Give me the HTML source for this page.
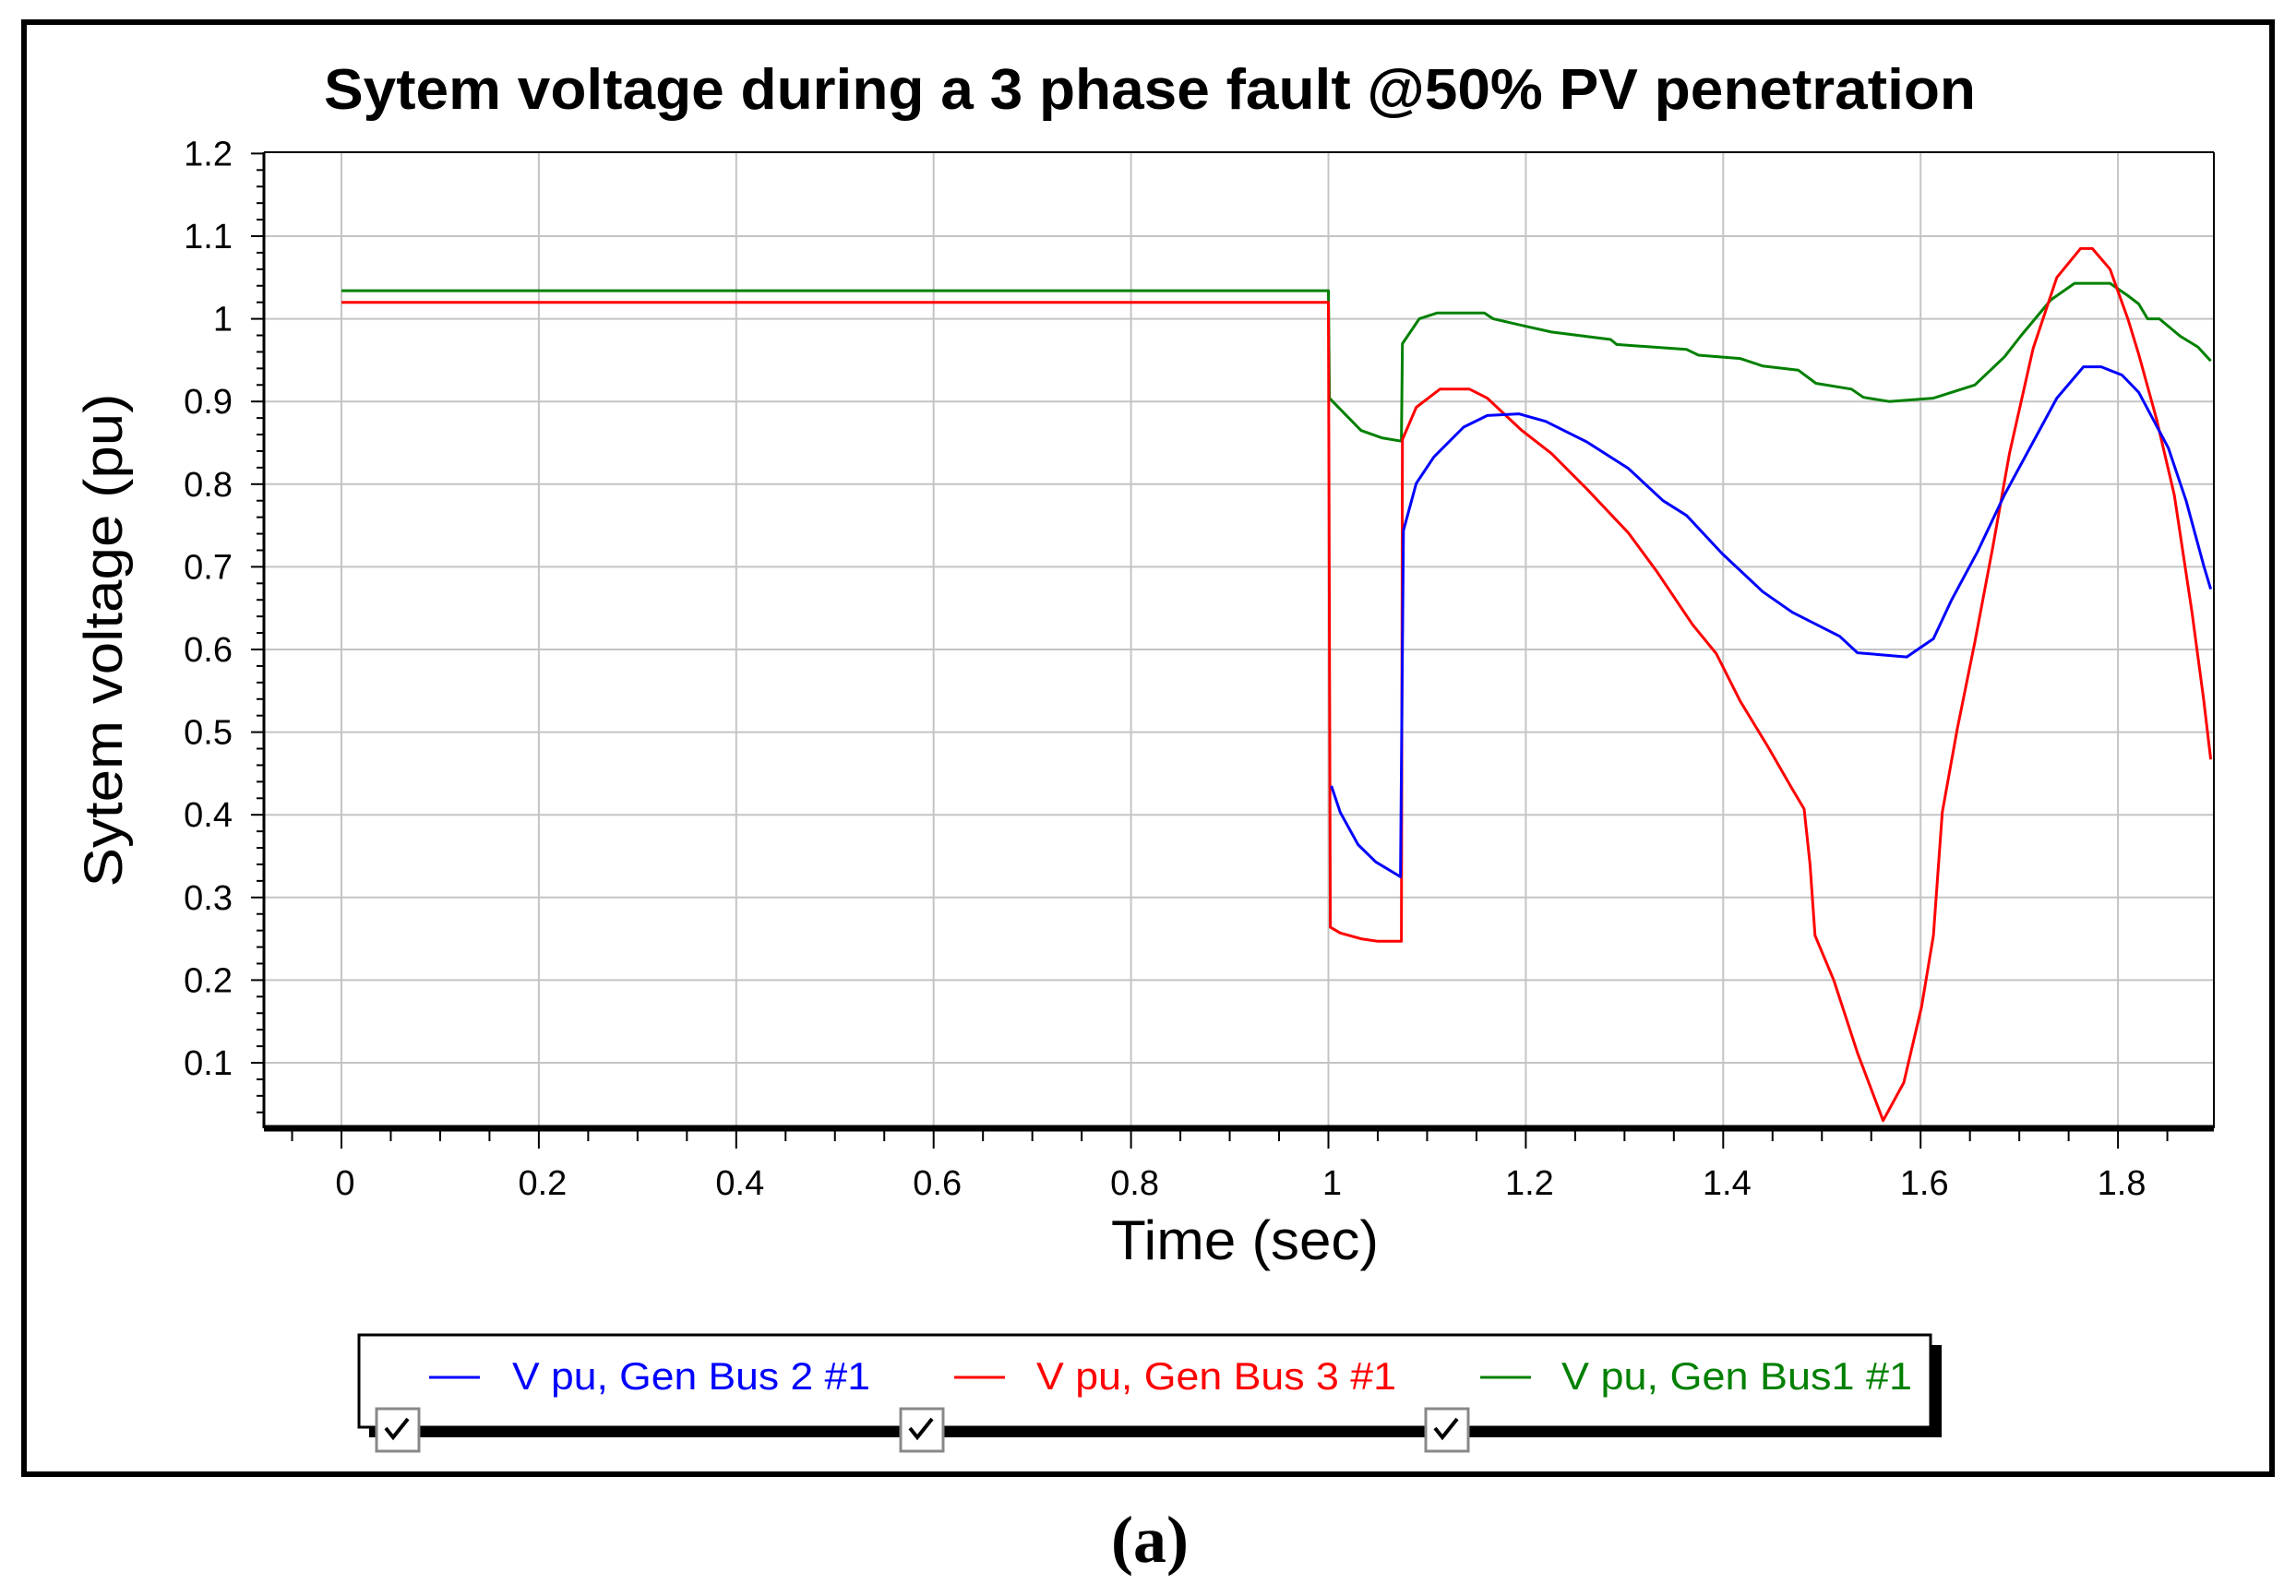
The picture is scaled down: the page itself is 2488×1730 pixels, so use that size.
<!DOCTYPE html>
<html><head><meta charset="utf-8">
<style>
html,body{margin:0;padding:0;background:#fff;}
svg{display:block;font-family:"Liberation Sans",sans-serif;}
</style></head>
<body>
<svg id="chart" width="2488" height="1730" viewBox="0 0 2488 1730" xmlns="http://www.w3.org/2000/svg">
  <rect x="0" y="0" width="2488" height="1730" fill="#fff"/>
  <rect x="26" y="24" width="2436" height="1574" fill="#fff" stroke="#000" stroke-width="6"/>
  <text x="1246" y="118" text-anchor="middle" font-size="62" font-weight="bold" textLength="1790" lengthAdjust="spacingAndGlyphs">Sytem voltage during a 3 phase fault @50% PV penetration</text>
  <g id="grid"></g>
  <g id="axes"></g>
  <g id="series"></g>
  <text transform="translate(132,694) rotate(-90)" text-anchor="middle" font-size="58" textLength="535" lengthAdjust="spacingAndGlyphs">Sytem voltage (pu)</text>
  <text x="1349" y="1365" text-anchor="middle" font-size="60" textLength="290" lengthAdjust="spacingAndGlyphs">Time (sec)</text>

  <g>
    <rect x="2092" y="1458" width="12" height="98" fill="#000"/>
    <rect x="400" y="1546" width="1704" height="12" fill="#000"/>
    <rect x="389" y="1447" width="1703" height="100" fill="#fff" stroke="#000" stroke-width="3"/>
    <g>
      <line x1="465" y1="1493" x2="520" y2="1493" stroke="#0000ff" stroke-width="3"/>
      <text x="555" y="1506" font-size="42" fill="#0000ff" textLength="388" lengthAdjust="spacingAndGlyphs">V pu, Gen Bus 2 #1</text>
    </g>
    <g>
      <line x1="1034" y1="1493" x2="1089" y2="1493" stroke="#ff0000" stroke-width="3"/>
      <text x="1123" y="1506" font-size="42" fill="#ff0000" textLength="390" lengthAdjust="spacingAndGlyphs">V pu, Gen Bus 3 #1</text>
    </g>
    <g>
      <line x1="1604" y1="1493" x2="1659" y2="1493" stroke="#008000" stroke-width="3"/>
      <text x="1692" y="1506" font-size="42" fill="#008000" textLength="380" lengthAdjust="spacingAndGlyphs">V pu, Gen Bus1 #1</text>
    </g>
    <g>
      <rect x="408" y="1527" width="46" height="46" fill="#fff" stroke="#888" stroke-width="3"/>
      <path d="M418 1548 l8 10 l16 -20" fill="none" stroke="#000" stroke-width="4"/>
    </g>
    <g>
      <rect x="976" y="1527" width="46" height="46" fill="#fff" stroke="#888" stroke-width="3"/>
      <path d="M986 1548 l8 10 l16 -20" fill="none" stroke="#000" stroke-width="4"/>
    </g>
    <g>
      <rect x="1545" y="1527" width="46" height="46" fill="#fff" stroke="#888" stroke-width="3"/>
      <path d="M1555 1548 l8 10 l16 -20" fill="none" stroke="#000" stroke-width="4"/>
    </g>
  </g>
  <text x="1246" y="1693" text-anchor="middle" font-family="Liberation Serif, serif" font-size="72" font-weight="bold">(a)</text>
</svg>
<script>
const xTicks = [0, 0.2, 0.4, 0.6, 0.8, 1, 1.2, 1.4, 1.6, 1.8];
const xTickLabels = ["0", "0.2", "0.4", "0.6", "0.8", "1", "1.2", "1.4", "1.6", "1.8"];
const yTicks = [0.1, 0.2, 0.3, 0.4, 0.5, 0.6, 0.7, 0.8, 0.9, 1.0, 1.1, 1.2];
const yTickLabels = ["0.1", "0.2", "0.3", "0.4", "0.5", "0.6", "0.7", "0.8", "0.9", "1", "1.1", "1.2"];

const blueT = [1.003,1.012,1.03,1.048,1.073,1.076,1.089,1.107,1.137,1.161,1.193,1.22,1.262,1.304,1.339,1.363,1.399,1.44,1.47,1.518,1.536,1.586,1.613,1.631,1.658,1.685,1.714,1.738,1.765,1.783,1.804,1.821,1.851,1.869,1.887,1.894];
const blueV = [0.435,0.403,0.364,0.343,0.325,0.744,0.801,0.833,0.869,0.883,0.885,0.876,0.851,0.819,0.78,0.762,0.716,0.67,0.645,0.616,0.596,0.591,0.613,0.659,0.719,0.787,0.851,0.904,0.942,0.942,0.932,0.911,0.844,0.78,0.701,0.673];

const redT = [0,1.0,1.002,1.012,1.033,1.05,1.074,1.075,1.089,1.113,1.143,1.161,1.196,1.226,1.262,1.304,1.333,1.369,1.393,1.417,1.446,1.47,1.482,1.488,1.493,1.512,1.536,1.562,1.583,1.601,1.613,1.622,1.637,1.655,1.673,1.69,1.714,1.738,1.762,1.774,1.792,1.81,1.821,1.839,1.857,1.875,1.887,1.894];
const redV = [1.02,1.02,0.264,0.257,0.25,0.247,0.247,0.854,0.893,0.915,0.915,0.904,0.865,0.837,0.794,0.741,0.694,0.63,0.595,0.538,0.481,0.431,0.407,0.34,0.254,0.2,0.112,0.03,0.076,0.168,0.254,0.403,0.503,0.609,0.723,0.837,0.964,1.05,1.085,1.085,1.06,1.0,0.957,0.879,0.787,0.645,0.538,0.467];

const greenT = [0,1.0,1.001,1.033,1.054,1.074,1.075,1.092,1.11,1.158,1.167,1.2,1.226,1.286,1.292,1.363,1.375,1.417,1.44,1.476,1.494,1.53,1.542,1.568,1.613,1.655,1.685,1.702,1.732,1.756,1.792,1.81,1.821,1.83,1.842,1.863,1.881,1.894];
const greenV = [1.034,1.034,0.904,0.865,0.856,0.852,0.97,1.0,1.007,1.007,1.0,0.991,0.984,0.975,0.969,0.963,0.956,0.952,0.943,0.938,0.922,0.915,0.905,0.9,0.904,0.92,0.954,0.98,1.023,1.043,1.043,1.028,1.018,1.0,1.0,0.979,0.966,0.949];

const NS = "http://www.w3.org/2000/svg";
const X0 = 370, XU = 1069.5, Y0 = 1241.6, YU = 896;
const PL = 286, PR = 2399, PT = 165, PB = 1223;
function xs(t){ return X0 + t * XU; }
function ys(v){ return Y0 - v * YU; }
function mk(tag, attrs, parent){
  const e = document.createElementNS(NS, tag);
  for (const k in attrs) e.setAttribute(k, attrs[k]);
  parent.appendChild(e);
  return e;
}
const gridG = document.getElementById('grid');
const axesG = document.getElementById('axes');
const seriesG = document.getElementById('series');

xTicks.forEach((t, i) => {
  const l = mk('line', {x1: xs(t), x2: xs(t), y1: PT, y2: PB, stroke: '#c4c4c4', 'stroke-width': 2}, gridG);
  
  
  const tx = mk('text', {x: xs(t) + 4, y: 1295, 'text-anchor': 'middle', 'font-size': 38}, axesG);
  tx.textContent = xTickLabels[i];
  
  
});
yTicks.forEach((v, i) => {
  if (v < 1.15) {
    const l = mk('line', {x1: PL, x2: PR, y1: ys(v), y2: ys(v), stroke: '#c4c4c4', 'stroke-width': 2}, gridG);
    
    
  }
  const tx = mk('text', {x: 252, y: ys(v) + 13, 'text-anchor': 'end', 'font-size': 38}, axesG);
  tx.textContent = yTickLabels[i];
  
  
});
for (let t = -0.05; t <= 1.9; t += 0.05) {
  const major = Math.abs(t * 5 - Math.round(t * 5)) < 1e-6;
  mk('line', {x1: xs(t), x2: xs(t), y1: PB, y2: PB + (major ? 22 : 14), stroke: '#000', 'stroke-width': 2}, axesG);
}
for (let v = 0.04; v <= 1.2001; v += 0.02) {
  const major = Math.abs(v * 10 - Math.round(v * 10)) < 1e-6;
  mk('line', {x1: PL - (major ? 14 : 8), x2: PL, y1: ys(v), y2: ys(v), stroke: '#000', 'stroke-width': 2}, axesG);
}
const plotTop = mk('line', {x1: PL, x2: PR, y1: PT, y2: PT, stroke: '#000', 'stroke-width': 2}, axesG);


const plotRight = mk('line', {x1: PR, x2: PR, y1: PT, y2: PB, stroke: '#000', 'stroke-width': 2}, axesG);


const yAxisLine = mk('line', {x1: PL, x2: PL, y1: PT, y2: PB, stroke: '#000', 'stroke-width': 3}, axesG);


const xAxisLine = mk('line', {x1: PL, x2: PR, y1: PB, y2: PB, stroke: '#000', 'stroke-width': 7}, axesG);



function drawLine(T, V, color, name){
  const pts = T.map((t, i) => xs(t).toFixed(1) + ',' + ys(V[i]).toFixed(1)).join(' ');
  const p = mk('polyline', {points: pts, fill: 'none', stroke: color, 'stroke-width': 3, 'stroke-linejoin': 'round'}, seriesG);
  
  
}
drawLine(greenT, greenV, '#008000', 'series-gen-bus1');
drawLine(redT, redV, '#ff0000', 'series-gen-bus-3');
drawLine(blueT, blueV, '#0000ff', 'series-gen-bus-2');
</script>
</body></html>
